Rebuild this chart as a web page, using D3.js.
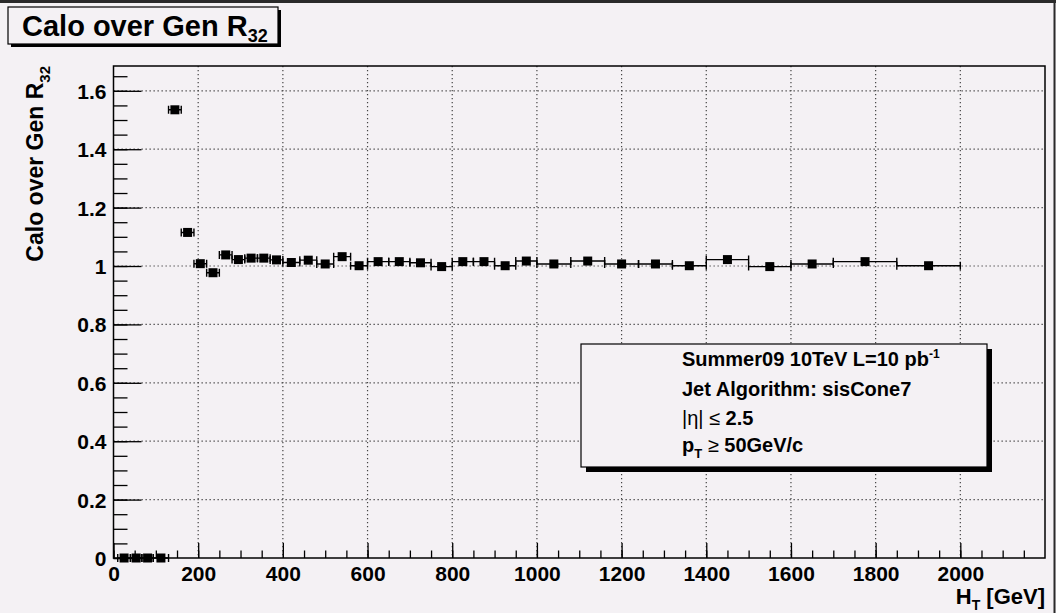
<!DOCTYPE html>
<head>
  <meta charset="utf-8">
  <script src="https://d3js.org/d3.v7.min.js"></script>
  <style>
    body {
      margin: 0;
      background: #f4f1f4;
    }

    text {
      font-family: 'Liberation Sans', Arial, sans-serif;
      font-weight: bold;
      fill: #000;
    }

    .axis text {
      font-size: 21px;
    }

    .axis path {
      display: none;
    }

    .axis line {
      stroke: #000;
      stroke-width: 1.3;
    }

    .grid line {
      stroke: #444;
      stroke-width: 1.2;
      stroke-dasharray: 1.3, 2.7;
    }
  </style>
</head>
<body>
  <script>
    // H_T bin edges [GeV] and the Calo/Gen R32 value in each bin
    var binEdges = [10, 40, 67, 94, 130, 160, 190, 220, 250, 280, 310, 340, 370, 400,
                    440, 480, 520, 560, 600, 650, 700, 750, 800, 850, 900, 950, 1000,
                    1080, 1160, 1240, 1320, 1400, 1500, 1600, 1700, 1850, 2000];
    var ratio = [0, 0, 0, 0, 1.535, 1.115, 1.008, 0.977, 1.038, 1.022, 1.027, 1.027, 1.021,
                 1.012, 1.02, 1.007, 1.032, 1.001, 1.015, 1.015, 1.011, 0.998, 1.015, 1.015,
                 1.001, 1.017, 1.007, 1.017, 1.007, 1.007, 1.001, 1.022, 0.998, 1.007,
                 1.015, 1.001];

    var xTicks = [0, 200, 400, 600, 800, 1000, 1200, 1400, 1600, 1800, 2000];
    var yTicks = [0, 0.2, 0.4, 0.6, 0.8, 1, 1.2, 1.4, 1.6];
    var yTickLabels = ["0", "0.2", "0.4", "0.6", "0.8", "1", "1.2", "1.4", "1.6"];

    var W = 1056, H = 613;
    var frame = {left: 113.5, right: 1045, top: 66, bottom: 558};

    var data = ratio.map(function(v, i) {
      return {lo: binEdges[i], hi: binEdges[i + 1], y: v};
    });

    var svg = d3.select("body").append("svg")
        .attr("width", W)
        .attr("height", H);

    // canvas border (dark on top and right)
    svg.append("line")
        .attr("x1", 0).attr("x2", W).attr("y1", 1.5).attr("y2", 1.5)
        .attr("stroke", "#2a2a2a").attr("stroke-width", 3);
    svg.append("line")
        .attr("x1", W - 1.5).attr("x2", W - 1.5).attr("y1", 0).attr("y2", H)
        .attr("stroke", "#2a2a2a").attr("stroke-width", 2);

    var x = d3.scaleLinear()
        .domain([0, 2200])
        .range([frame.left, frame.right]);

    var y = d3.scaleLinear()
        .domain([0, 1.685])
        .range([frame.bottom, frame.top]);

    // dotted grid
    svg.append("g")
        .attr("class", "grid")
        .selectAll("line")
        .data(xTicks.slice(1))
      .enter().append("line")
        .attr("x1", function(d) { return x(d); })
        .attr("x2", function(d) { return x(d); })
        .attr("y1", frame.top)
        .attr("y2", frame.bottom);

    svg.append("g")
        .attr("class", "grid")
        .selectAll("line")
        .data(yTicks.slice(1))
      .enter().append("line")
        .attr("x1", frame.left)
        .attr("x2", frame.right)
        .attr("y1", function(d) { return y(d); })
        .attr("y2", function(d) { return y(d); });

    // axes, ticks pointing into the frame
    svg.append("g")
        .attr("class", "x axis")
        .attr("transform", "translate(0," + frame.bottom + ")")
        .call(d3.axisBottom(x).tickValues(d3.range(0, 2200, 50)).tickSizeInner(-7.5).tickSizeOuter(0).tickFormat(""));

    svg.append("g")
        .attr("class", "x axis")
        .attr("transform", "translate(0," + frame.bottom + ")")
        .call(d3.axisBottom(x).tickValues(xTicks).tickSizeInner(-15).tickSizeOuter(0).tickPadding(8)
          .tickFormat(function(d) { return String(d); }));

    svg.append("g")
        .attr("class", "y axis")
        .attr("transform", "translate(" + frame.left + ",0)")
        .call(d3.axisLeft(y).tickValues(d3.range(0, 1.66, 0.05)).tickSizeInner(-14).tickSizeOuter(0).tickFormat(""));

    svg.append("g")
        .attr("class", "y axis")
        .attr("transform", "translate(" + frame.left + ",0)")
        .call(d3.axisLeft(y).tickValues(yTicks).tickSizeInner(-28).tickSizeOuter(0).tickPadding(7)
          .tickFormat(function(d, i) { return yTickLabels[i]; }))
      .selectAll("text")
        .attr("dy", "0.36em");

    // frame
    svg.append("rect")
        .attr("x", frame.left)
        .attr("y", frame.top)
        .attr("width", frame.right - frame.left)
        .attr("height", frame.bottom - frame.top)
        .attr("fill", "none")
        .attr("stroke", "#000")
        .attr("stroke-width", 1.5);

    // points with x error bars
    var pts = svg.append("g").attr("class", "points");

    pts.selectAll(".ebar")
        .data(data)
      .enter().append("path")
        .attr("class", "ebar")
        .attr("fill", "none")
        .attr("stroke", "#000")
        .attr("stroke-width", 1.4)
        .attr("d", function(d) {
          var x0 = x(d.lo), x1 = x(d.hi), yy = y(d.y);
          return "M" + x0 + "," + (yy - 4) + "V" + (yy + 4) +
                 "M" + x0 + "," + yy + "H" + x1 +
                 "M" + x1 + "," + (yy - 4) + "V" + (yy + 4);
        });

    pts.selectAll(".marker")
        .data(data)
      .enter().append("rect")
        .attr("class", "marker")
        .attr("x", function(d) { return x((d.lo + d.hi) / 2) - 4.5; })
        .attr("y", function(d) { return y(d.y) - 4.5; })
        .attr("width", 9)
        .attr("height", 9)
        .attr("fill", "#000");

    // title box
    svg.append("rect")
        .attr("x", 11).attr("y", 10).attr("width", 270).attr("height", 37)
        .attr("fill", "#000");
    svg.append("rect")
        .attr("x", 8).attr("y", 7).attr("width", 270).attr("height", 37)
        .attr("fill", "#f4f1f4").attr("stroke", "#000").attr("stroke-width", 1.2);

    var title = svg.append("text")
        .attr("x", 22)
        .attr("y", 36)
        .style("font-size", "29px")
        .text("Calo over Gen R");
    title.append("tspan")
        .attr("dy", 6)
        .style("font-size", "18px")
        .text("32");

    // axis titles
    var yTitle = svg.append("text")
        .attr("transform", "translate(43," + frame.top + ") rotate(-90)")
        .attr("text-anchor", "end")
        .style("font-size", "23px")
        .text("Calo over Gen R");
    yTitle.append("tspan")
        .attr("dy", 7)
        .style("font-size", "15px")
        .text("32");

    var xTitle = svg.append("text")
        .attr("x", frame.right)
        .attr("y", 604)
        .attr("text-anchor", "end")
        .style("font-size", "22px")
        .text("H");
    xTitle.append("tspan")
        .attr("dy", 6)
        .style("font-size", "14px")
        .text("T");
    xTitle.append("tspan")
        .attr("dy", -6)
        .text(" [GeV]");

    // info box
    svg.append("rect")
        .attr("x", 586).attr("y", 349).attr("width", 406).attr("height", 123)
        .attr("fill", "#000");
    svg.append("rect")
        .attr("x", 581).attr("y", 344).attr("width", 406).attr("height", 123)
        .attr("fill", "#f4f1f4").attr("stroke", "#000").attr("stroke-width", 1.2);

    var info = svg.append("g")
        .attr("transform", "translate(682,0)")
        .style("font-size", "20px");

    var l1 = info.append("text").attr("y", 366).text("Summer09 10TeV L=10 pb");
    l1.append("tspan").attr("dy", -8).style("font-size", "12px").text("-1");

    info.append("text").attr("y", 396).text("Jet Algorithm: sisCone7");

    var l3 = info.append("text").attr("y", 425);
    l3.append("tspan").style("font-weight", "normal").text("|η| ≤");
    l3.append("tspan").text(" 2.5");

    var l4 = info.append("text").attr("y", 452).text("p");
    l4.append("tspan").attr("dy", 6).style("font-size", "13px").text("T");
    l4.append("tspan").attr("dy", -6).style("font-weight", "normal").text(" ≥");
    l4.append("tspan").text(" 50GeV/c");
  </script>
</body>
